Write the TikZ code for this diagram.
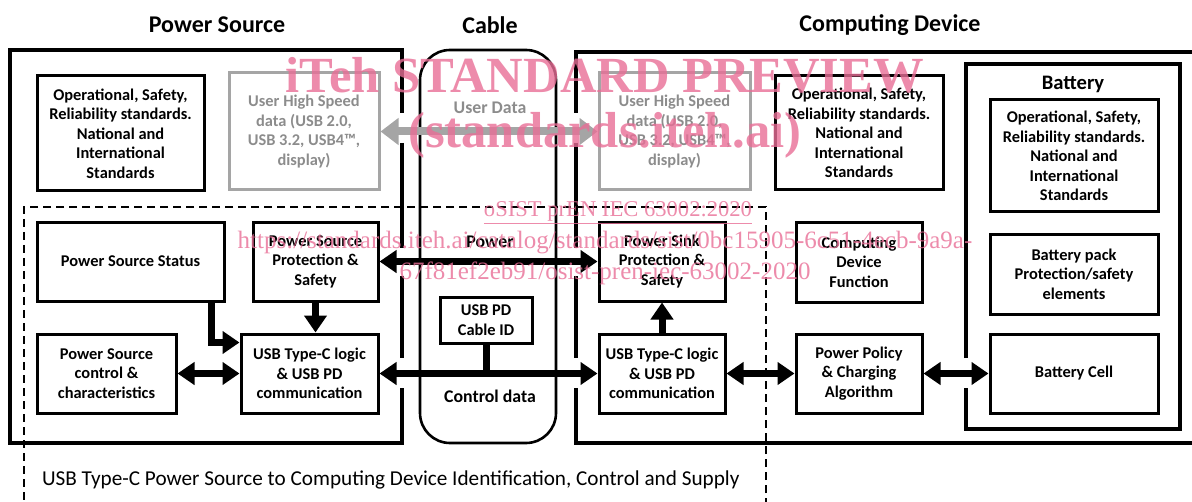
\documentclass[tikz,border=0pt]{standalone}
\usepackage{fontspec}
\setmainfont{Carlito}
\newfontfamily\wmfont{Liberation Serif}
\usetikzlibrary{arrows.meta}
\definecolor{hsgrey}{RGB}{165,165,165}
\definecolor{hstext}{RGB}{140,140,140}
\definecolor{wmpink}{RGB}{232,110,150}

\begin{document}
\begin{tikzpicture}[x=0.5pt, y=-0.5pt,
    blk/.style={draw, line width=1.5pt, rectangle, align=center, inner sep=1pt, font=\bfseries\fontsize{8.2}{9.75}\selectfont},
    greyblk/.style={blk, draw=hsgrey, text=hstext},
    frame/.style={line width=2pt},
    title/.style={font=\bfseries\fontsize{12}{14}\selectfont},
    lbl/.style={font=\bfseries\fontsize{8.9}{10}\selectfont},
    arr/.style={line width=3.5pt, -{Triangle[length=8.5pt, width=11pt]}},
    darr/.style={line width=3.5pt, {Triangle[length=8.5pt, width=11pt]}-{Triangle[length=8.5pt, width=11pt]}},
    wm/.style={text=wmpink, text opacity=0.8, font=\wmfont\fontsize{12.5}{14}\selectfont}]
    \useasboundingbox (0,0) rectangle (1192,502);
    % Titles
    \node[title] (t_src) at (217,25) {Power Source};
    \node[title] (t_cable) at (490,25) {Cable};
    \node[title] (t_dev) at (890,25) {Computing Device};
    % Frames (gaps where the arrows pass)
    \draw[frame] (402,113) -- (402,50) -- (10,50) -- (10,443) -- (402,443) -- (402,388);
    \draw[frame] (402,143) -- (402,248);
    \draw[frame] (402,276) -- (402,358);
    \draw[frame] (1196,52) -- (576,52) -- (576,113);
    \draw[frame] (576,143) -- (576,248);
    \draw[frame] (576,276) -- (576,358);
    \draw[frame] (576,388) -- (576,443) -- (1196,443);
    \draw[frame] (966,358) -- (966,64) -- (1180,64) -- (1180,429) -- (966,429) -- (966,388);
    \draw[line width=1.2pt, dash pattern=on 4pt off 2.5pt] (766,506) -- (766,207) -- (24,207) -- (24,506);
    \node[draw, line width=1.3pt, rounded corners=15pt, minimum width=68pt, minimum height=196.5pt] (cable) at (488,246.5) {};
    % Nodes
    \node[blk, minimum width=83.5pt, minimum height=57.5pt] (std_src) at (120.5,133.5) {Operational, Safety,\\Reliability standards.\\National and\\International\\Standards};
    \node[greyblk, minimum width=75pt, minimum height=58.5pt] (hs_src) at (304,131.5) {User High Speed\\data (USB 2.0,\\USB 3.2, USB4™,\\display)};
    \node[greyblk, minimum width=75.5pt, minimum height=58.5pt] (hs_dev) at (674.5,131.5) {User High Speed\\data (USB 2.0,\\USB 3.2, USB4™,\\display)};
    \node[blk, minimum width=84pt, minimum height=57pt] (std_dev) at (859,133) {Operational, Safety,\\Reliability standards.\\National and\\International\\Standards};
    \node[title, font=\bfseries\fontsize{10.3}{12}\selectfont] (t_bat) at (1073,84) {Battery};
    \node[blk, minimum width=84pt, minimum height=56pt] (std_bat) at (1074,156) {Operational, Safety,\\Reliability standards.\\National and\\International\\Standards};
    \node[blk, minimum width=84pt, minimum height=40pt] (batpack) at (1074,274) {Battery pack\\Protection/safety\\elements};
    \node[blk, minimum width=84pt, minimum height=39.5pt] (batcell) at (1074,373.5) {Battery Cell};
    \node[blk, minimum width=93.5pt, minimum height=39.5pt] (status) at (130.5,261.5) {Power Source Status};
    \node[blk, minimum width=62.5pt, minimum height=39.5pt] (srcprot) at (315.5,261.5) {Power Source\\Protection \&\\Safety};
    \node[blk, minimum width=69.5pt, minimum height=39.5pt] (srcctrl) at (106.5,373.5) {Power Source\\control \&\\characteristics};
    \node[blk, minimum width=68.5pt, minimum height=39.5pt] (tcsrc) at (309.5,373.5) {USB Type-C logic\\\& USB PD\\communication};
    \node[blk, minimum width=46pt, minimum height=23pt] (cableid) at (486,320) {USB PD\\Cable ID};
    \node[blk, minimum width=63pt, minimum height=39.5pt] (sinkprot) at (662,261.5) {Power Sink\\Protection \&\\Safety};
    \node[blk, minimum width=63pt, minimum height=39.5pt] (tcdev) at (662,373.5) {USB Type-C logic\\\& USB PD\\communication};
    \node[blk, minimum width=63pt, minimum height=40pt] (devfunc) at (859,262) {Computing\\Device\\Function};
    \node[blk, minimum width=63pt, minimum height=39.5pt] (policy) at (859,373.5) {Power Policy\\\& Charging\\Algorithm};
    \node[lbl, text=hstext] (userdata) at (490,108) {User Data};
    \node[lbl] (power) at (490,242) {Power};
    \node[lbl] (ctrldata) at (490,396) {Control data};
    \node[anchor=west, font=\fontsize{10.6}{12}\selectfont] (caption) at (35,480) {USB Type-C Power Source to Computing Device Identification, Control and Supply};
    \coordinate (tap) at (486,373.5);
    % Arrows
    \draw[line width=4pt, draw=hsgrey, {Triangle[length=9pt, width=13pt]}-{Triangle[length=9pt, width=13pt]}] (hs_src) -- (hs_dev);
    \draw[darr] (srcprot) -- (sinkprot);
    \draw[darr] (tcsrc) -- (tcdev);
    \draw[line width=3.5pt] (cableid) -- (tap);
    \draw[arr] ([xshift=-7pt]status.south east) |- ([yshift=-5pt]tcsrc.north west);
    \draw[arr] (srcprot.south) -- (srcprot.south |- tcsrc.north);
    \draw[darr] (srcctrl) -- (tcsrc);
    \draw[arr] (tcdev) -- (sinkprot);
    \draw[darr] (tcdev) -- (policy);
    \draw[darr] (policy) -- (batcell);
    % Watermark
    \node[wm, font=\wmfont\bfseries\fontsize{25.3}{30}\selectfont] (wm1) at (605,75) {iTeh STANDARD PREVIEW};
    \node[wm, font=\wmfont\bfseries\fontsize{25.3}{30}\selectfont] (wm2) at (605,135) {(standards.iteh.ai)};
    \node[wm, font=\wmfont\fontsize{11.3}{13}\selectfont] (wm3) at (618,213) {\underline{oSIST prEN IEC 63002:2020}};
    \node[wm] (wm4) at (605,243) {https://standards.iteh.ai/catalog/standards/sist/0bc15905-6c51-4ecb-9a9a-};
    \node[wm] (wm5) at (605,273) {67f81ef2eb91/osist-pren-iec-63002-2020};
\end{tikzpicture}
\end{document}
